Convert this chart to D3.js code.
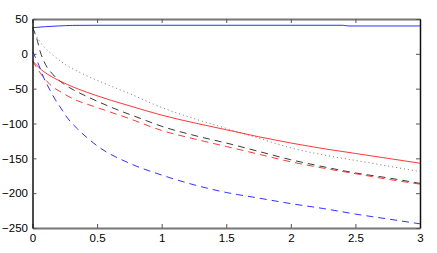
<!DOCTYPE html>
<html><head><meta charset="utf-8">
<script src="https://cdn.jsdelivr.net/npm/d3@7"></script>
<style>body{margin:0;background:#fff}svg{display:block}</style>
</head><body><svg id="c" width="437" height="253"></svg>
<script>
const xTicks = [0, 0.5, 1, 1.5, 2, 2.5, 3];
const yTicks = [50, 0, -50, -100, -150, -200, -250];
const blueSolid = [[0,37.5],[0.1,39],[0.2,40],[0.31,40.8],[0.5,41],[1,41],[1.5,41],[2,41],[2.4,41],[2.45,40],[3,40]];
const blackDotted = [[0,34],[0.08,12],[0.16,-2],[0.26,-16],[0.37,-27],[0.5,-38],[0.75,-57],[1,-77],[1.25,-93],[1.5,-107],[1.75,-121],[2,-135],[2.25,-145],[2.5,-153],[2.75,-161],[3,-169]];
const redSolid = [[0,-10],[0.07,-23],[0.17,-35],[0.27,-44],[0.48,-59],[0.74,-74],[1,-88],[1.25,-99],[1.5,-109],[1.75,-119],[2,-128],[2.25,-136],[2.5,-143],[2.75,-150],[3,-157]];
const blackDashed = [[0,38],[0.03,24],[0.06,3],[0.1,-15],[0.16,-30],[0.24,-43],[0.32,-52],[0.43,-62],[0.64,-79],[0.84,-93],[1,-104],[1.25,-117],[1.5,-128],[1.75,-140],[2,-152],[2.25,-162],[2.5,-171],[2.75,-178],[3,-186]];
const redDashed = [[0,-10],[0.07,-30],[0.135,-44],[0.23,-56],[0.32,-65],[0.5,-77],[0.75,-93],[1,-110],[1.25,-122],[1.5,-133],[1.75,-144],[2,-155],[2.25,-164],[2.5,-172],[2.75,-180],[3,-187]];
const blueDashed = [[0,3],[0.04,-12],[0.084,-33],[0.135,-52],[0.174,-65],[0.22,-78],[0.27,-92],[0.35,-108],[0.42,-120],[0.5,-132],[0.75,-157],[1,-174],[1.25,-188],[1.5,-199],[1.75,-207],[2,-215],[2.25,-222],[2.5,-230],[2.75,-237],[3,-244]];

const series = [
  {data: blueSolid, color: "#1a1aff", dash: null},
  {data: blackDotted, color: "#666", dash: "1,3"},
  {data: blackDashed, color: "#222", dash: "7,5"},
  {data: redDashed, color: "#ff2020", dash: "7,5"},
  {data: redSolid, color: "#ff2020", dash: null},
  {data: blueDashed, color: "#1a1aff", dash: "7,5"}
];

const L = 32.5, R = 420, T = 19, B = 228;
const svg = d3.select("#c");
const x = d3.scaleLinear().domain([0,3]).range([L,R]);
const y = d3.scaleLinear().domain([-250,50]).range([B,T]);

svg.append("defs").append("clipPath").attr("id","clip")
  .append("rect").attr("x",L).attr("y",T).attr("width",R-L).attr("height",B-T);

const line = d3.line().x(d=>x(d[0])).y(d=>y(d[1])).curve(d3.curveMonotoneX);
const g = svg.append("g").attr("clip-path","url(#clip)");
series.forEach(s=>{
  g.append("path").attr("d", line(s.data)).attr("fill","none")
   .attr("stroke", s.color).attr("stroke-width", 0.9)
   .attr("stroke-dasharray", s.dash);
});

const fmt = d3.format("~g");
const font = "Liberation Sans, Arial, Helvetica, sans-serif";
function style(sel, col, w){
  sel.select(".domain").attr("stroke", col).attr("stroke-width", w);
  sel.selectAll(".tick line").attr("stroke", "#555");
  sel.selectAll(".tick text").attr("font-family", font).attr("font-size", 11.5).attr("fill","#000");
}
style(svg.append("g").attr("transform",`translate(0,${B})`)
  .call(d3.axisBottom(x).tickValues(xTicks).tickFormat(fmt).tickSize(-4).tickSizeOuter(0).tickPadding(6)), "#777", 2);
style(svg.append("g").attr("transform",`translate(0,${T})`)
  .call(d3.axisTop(x).tickValues(xTicks).tickFormat("").tickSize(-4).tickSizeOuter(0)), "#777", 2);
style(svg.append("g").attr("transform",`translate(${L},0)`)
  .call(d3.axisLeft(y).tickValues(yTicks).tickFormat(fmt).tickSize(-4).tickSizeOuter(0).tickPadding(4.5)), "#111", 1.5);
style(svg.append("g").attr("transform",`translate(${R},0)`)
  .call(d3.axisRight(y).tickValues(yTicks).tickFormat("").tickSize(-4).tickSizeOuter(0)), "#111", 1.5);
</script></body></html>
